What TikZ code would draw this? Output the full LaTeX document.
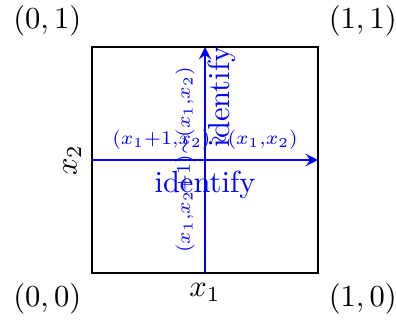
\documentclass[tikz,border=0pt]{standalone}
\usetikzlibrary{arrows}
\begin{document}
\begin{tikzpicture}[scale=2.6, >=stealth]
\useasboundingbox (-0.407,-0.217) rectangle (1.345,1.208);
\coordinate (sw) at (0,0);
\coordinate (ne) at (1,1);
\coordinate (wmid) at (0,0.5);
\coordinate (emid) at (1,0.5);
\coordinate (smid) at (0.5,0);
\coordinate (nmid) at (0.5,1);

\draw[thick] (sw) rectangle (ne);

\node[below left] (zz) at (0,0) {$(0,0)$};
\node[below right] (oz) at (1,0) {$(1,0)$};
\node[above left] (zo) at (0,1) {$(0,1)$};
\node[above right] (oo) at (1,1) {$(1,1)$};
\node[below] (xone) at (smid) {$x_1$};
\node[above,rotate=90] (xtwo) at (wmid) {$x_2$};

\draw[blue,thick,->] (wmid) -- (emid)
  node[midway,above,scale=0.9] (hlbl) {$\scriptstyle (x_1+1,x_2)\sim(x_1,x_2)$}
  node[midway,below] (hid) {identify};
\draw[blue,thick,->] (smid) -- (nmid)
  node[midway,above,sloped,scale=0.9] (vlbl) {$\scriptstyle (x_1,x_2+1)\sim(x_1,x_2)$}
  node[pos=0.78,sloped,below,inner sep=0.5pt] (vid) {identify};
\end{tikzpicture}
\end{document}
